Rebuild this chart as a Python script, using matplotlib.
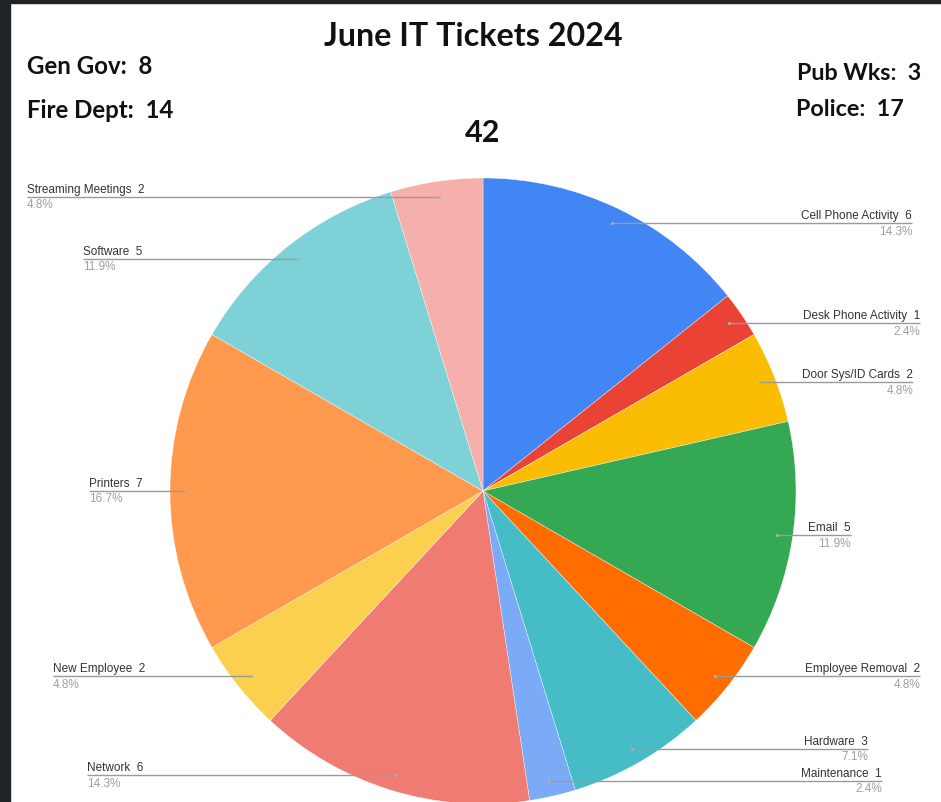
import matplotlib
matplotlib.use("Agg")
import matplotlib.pyplot as plt
import numpy as np

W, H = 941, 803

categories = ["Cell Phone Activity", "Desk Phone Activity", "Door Sys/ID Cards", "Email",
              "Employee Removal", "Hardware", "Maintenance", "Network", "New Employee",
              "Printers", "Software", "Streaming Meetings"]
values = [6, 1, 2, 5, 2, 3, 1, 6, 2, 7, 5, 2]
colors = ["#4285F4", "#EA4335", "#FBBC04", "#34A853", "#FF6D01", "#46BDC6",
          "#7BAAF7", "#F07B72", "#FCD04F", "#FF994D", "#7ED1D7", "#F5B0AB"]

title = "June IT Tickets 2024"
total_label = "42"
dept_left = ["Gen Gov:  8", "Fire Dept:  14"]
dept_right = ["Pub Wks:  3", "Police:  17"]

# layout (pixel coordinates, y measured from top)
label_side = ["R", "R", "R", "R", "R", "R", "R", "L", "L", "L", "L", "L"]
label_x = [912, 920, 913, 851, 920, 868, 882, 87, 53, 89, 83, 27]

CX, CY, R = 483, 492, 313

def py(y):
    return H - y

fig = plt.figure(figsize=(W / 100, H / 100), dpi=100)
fig.patch.set_facecolor("white")
ax = fig.add_axes([0, 0, 1, 1])
wedges, _ = ax.pie(values, colors=colors, startangle=90, counterclock=False,
                   center=(CX, py(CY)), radius=R,
                   wedgeprops=dict(linewidth=0.25, edgecolor="white"))
ax.set_xlim(0, W)
ax.set_ylim(0, H)
ax.set_aspect("auto")
ax.axis("off")

total = sum(values)
font = "Liberation Sans"
for w, cat, v, side, lx in zip(wedges, categories, values, label_side, label_x):
    mid = np.deg2rad((w.theta1 + w.theta2) / 2)
    dx = CX + 0.95 * R * np.cos(mid)
    dy = py(CY) + 0.95 * R * np.sin(mid)
    ax.plot([dx, lx], [dy, dy], color="#9a9a9a", lw=1.0, solid_capstyle="butt", zorder=3)
    ax.plot([dx], [dy], marker="o", ms=2.2, color="#b0b0b0", mec="none", zorder=4)
    ha = "right" if side == "R" else "left"
    ax.text(lx, dy + 2, f"{cat}  {v}", ha=ha, va="bottom", fontsize=8.5,
            color="#333333", family=font, zorder=5)
    ax.text(lx, dy - 1.5, f"{100 * v / total:.1f}%", ha=ha, va="top", fontsize=8.5,
            color="#a0a0a0", family=font, zorder=5)

hfont = "Lato"
ax.text(473, py(37), title, ha="center", va="center", fontsize=23.2,
        fontweight="bold", family=hfont, color="#111111")
ax.text(CX, py(133), total_label, ha="center", va="center", fontsize=22,
        fontweight="bold", family=hfont, color="#111111")
ax.text(27, py(67), dept_left[0], ha="left", va="center", fontsize=17.3,
        fontweight="bold", family=hfont, color="#111111")
ax.text(27, py(110), dept_left[1], ha="left", va="center", fontsize=17.3,
        fontweight="bold", family=hfont, color="#111111")
ax.text(797, py(74), dept_right[0], ha="left", va="center", fontsize=16.8,
        fontweight="bold", family=hfont, color="#111111")
ax.text(796, py(109), dept_right[1], ha="left", va="center", fontsize=16.8,
        fontweight="bold", family=hfont, color="#111111")

# dark frame edges (screenshot border)
fig.patches.append(plt.Rectangle((0, 0), 10 / W, 1, transform=fig.transFigure,
                                 color="#1f2326", zorder=10))
fig.patches.append(plt.Rectangle((0, 1 - 4 / H), 1, 4 / H, transform=fig.transFigure,
                                 color="#1f2326", zorder=10))

fig.savefig("out.png", dpi=100, facecolor="white")
